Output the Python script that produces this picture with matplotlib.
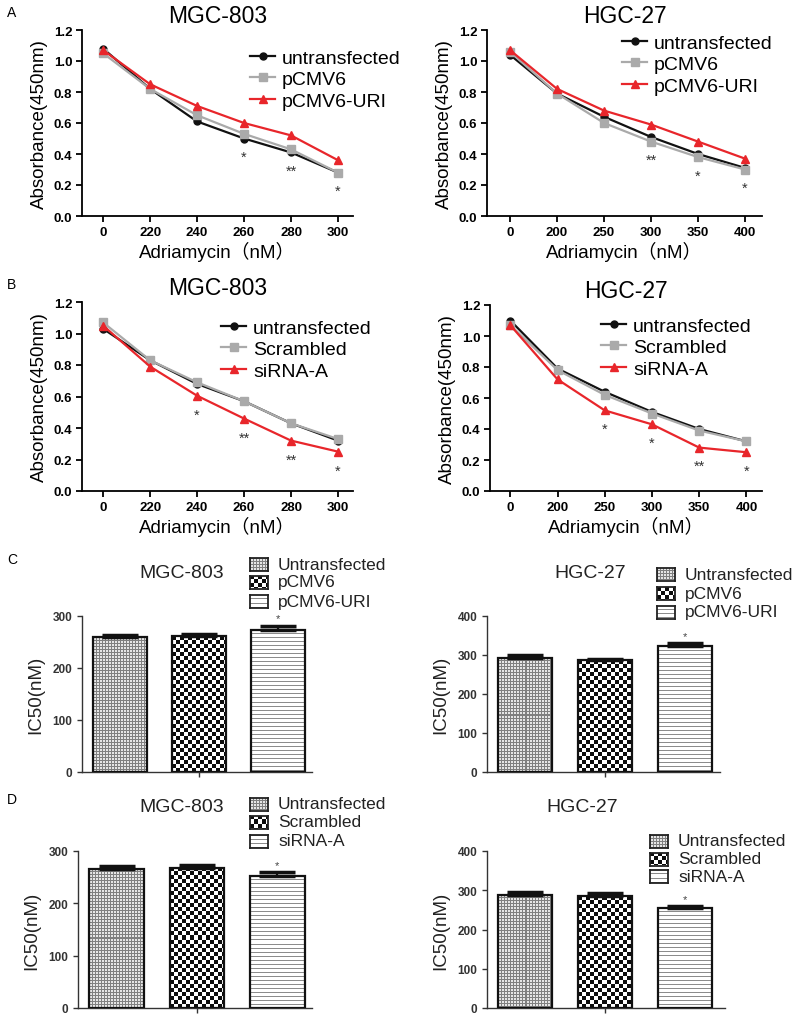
import numpy as np
import matplotlib
matplotlib.use('Agg')
from matplotlib import pyplot as plt

plt.rcParams['font.family'] = ['Liberation Sans', 'DejaVu Sans']

# ---- data: absorbance curves ----
mgc_doses = ['0', '220', '240', '260', '280', '300']
hgc_doses = ['0', '200', '250', '300', '350', '400']

a_mgc_untr = [1.08, 0.82, 0.61, 0.50, 0.41, 0.28]
a_mgc_pcmv = [1.05, 0.82, 0.65, 0.53, 0.43, 0.28]
a_mgc_uri = [1.07, 0.85, 0.71, 0.60, 0.52, 0.36]
a_mgc_stars = ['', '', '', '*', '**', '*']

a_hgc_untr = [1.04, 0.79, 0.64, 0.51, 0.40, 0.31]
a_hgc_pcmv = [1.06, 0.79, 0.60, 0.48, 0.38, 0.30]
a_hgc_uri = [1.07, 0.82, 0.68, 0.59, 0.48, 0.37]
a_hgc_stars = ['', '', '', '**', '*', '*']

b_mgc_untr = [1.03, 0.83, 0.68, 0.57, 0.43, 0.32]
b_mgc_scr = [1.07, 0.83, 0.69, 0.57, 0.43, 0.33]
b_mgc_si = [1.05, 0.79, 0.605, 0.46, 0.32, 0.25]
b_mgc_stars = ['', '', '*', '**', '**', '*']

b_hgc_untr = [1.10, 0.79, 0.64, 0.51, 0.40, 0.32]
b_hgc_scr = [1.07, 0.78, 0.62, 0.50, 0.39, 0.32]
b_hgc_si = [1.07, 0.72, 0.52, 0.43, 0.28, 0.25]
b_hgc_stars = ['', '', '*', '*', '**', '*']

# ---- data: IC50 bars ----
c_labels = ['Untransfected', 'pCMV6', 'pCMV6-URI']
d_labels = ['Untransfected', 'Scrambled', 'siRNA-A']
c_mgc_ic50 = [259, 261, 274]
c_mgc_err = [4, 5, 7]
c_hgc_ic50 = [293, 286, 323]
c_hgc_err = [6, 4, 7]
d_mgc_ic50 = [266, 268, 253]
d_mgc_err = [5, 6, 6]
d_hgc_ic50 = [289, 285, 255]
d_hgc_err = [6, 7, 5]
bar_stars = ['', '', '*']

W, H = 800, 1020
fig = plt.figure(figsize=(W / 100, H / 100), dpi=100)
XFONT = ['Liberation Sans', 'Noto Sans CJK SC']


def box(l, t, r, b):
    return [l / W, 1 - b / H, (r - l) / W, (b - t) / H]


def line_panel(rect, doses, series, names, stars, xlim, title, leg_xy):
    ax = fig.add_axes(box(*rect))
    x = np.arange(len(doses))
    styles = [('#111111', 'o', 5), ('#aaaaaa', 's', 5.5), ('#e8262b', '^', 5.5)]
    for vals, name, (c, m, ms) in zip(series, names, styles):
        ax.plot(x, vals, color=c, marker=m, ms=ms, lw=1.6, label=name)
    for xi, s in zip(x, stars):
        if s:
            low = min(v[xi] for v in series)
            ax.text(xi, low - 0.145, s, ha='center', va='baseline',
                    fontsize=10.5, color='#333333')
    ax.set_xlim(*xlim)
    ax.set_ylim(0, 1.2)
    ax.set_xticks(x)
    ax.set_xticklabels(doses)
    ax.set_yticks(np.arange(0, 1.21, 0.2))
    ax.set_yticklabels(['%.1f' % v for v in np.arange(0, 1.21, 0.2)])
    for sp in ['top', 'right']:
        ax.spines[sp].set_visible(False)
    for sp in ['left', 'bottom']:
        ax.spines[sp].set_linewidth(1.3)
    ax.tick_params(width=1.3, length=4, labelsize=9.5, pad=3)
    for lab in ax.get_xticklabels() + ax.get_yticklabels():
        lab.set_fontweight('bold')
    ax.set_ylabel('Absorbance(450nm)', fontsize=13.5, labelpad=4)
    ax.set_xlabel('Adriamycin（nM）', fontsize=13.5, labelpad=2, family=XFONT)
    ax.set_title(title, fontsize=16.5, pad=6)
    ax.legend(loc='upper left', bbox_to_anchor=(leg_xy[0] / W, 1 - leg_xy[1] / H),
              bbox_transform=fig.transFigure, frameon=False, fontsize=14,
              borderpad=0, borderaxespad=0, handlelength=1.3,
              handletextpad=0.35, labelspacing=0.2)
    return ax


line_panel((82, 31, 353, 217), mgc_doses, [a_mgc_untr, a_mgc_pcmv, a_mgc_uri],
           ['untransfected', 'pCMV6', 'pCMV6-URI'], a_mgc_stars, (-0.45, 5.32),
           'MGC-803', (250, 50))
line_panel((487, 31, 762, 217), hgc_doses, [a_hgc_untr, a_hgc_pcmv, a_hgc_uri],
           ['untransfected', 'pCMV6', 'pCMV6-URI'], a_hgc_stars, (-0.49, 5.36),
           'HGC-27', (622, 35))
line_panel((82, 303, 353, 492), mgc_doses, [b_mgc_untr, b_mgc_scr, b_mgc_si],
           ['untransfected', 'Scrambled', 'siRNA-A'], b_mgc_stars, (-0.45, 5.32),
           'MGC-803', (221, 320))
line_panel((490, 306, 762, 492), hgc_doses, [b_hgc_untr, b_hgc_scr, b_hgc_si],
           ['untransfected', 'Scrambled', 'siRNA-A'], b_hgc_stars, (-0.43, 5.33),
           'HGC-27', (601, 318))


def texture(kind, w_px, h_px):
    w_px = max(int(round(w_px)), 2)
    h_px = max(int(round(h_px)), 2)
    i, j = np.mgrid[0:h_px, 0:w_px]
    if kind == 0:
        return np.where((i % 3 == 0) | (j % 3 == 0), 0.5, 0.9)
    if kind == 1:
        return np.where((i // 4 + j // 4) % 2 == 0, 0.05, 1.0)
    return np.where(i % 4 == 0, 0.55, 1.0)


def bar_panel(rect, vals, errs, ymax, xlim, title, title_xy, labels, leg_x, leg_rows):
    l, t, r, b = rect
    ax = fig.add_axes(box(*rect))
    x = np.arange(len(vals))
    width = 0.68
    bars = ax.bar(x, vals, width=width, color='none', edgecolor='#111111',
                  linewidth=1.6, zorder=4)
    ax.set_xlim(*xlim)
    ax.set_ylim(0, ymax)
    px_x = (r - l) / (xlim[1] - xlim[0])
    px_y = (b - t) / ymax
    for k, bar in enumerate(bars):
        arr = texture(k, bar.get_width() * px_x, bar.get_height() * px_y)
        im = ax.imshow(arr, cmap='gray', vmin=0, vmax=1, interpolation='nearest',
                       aspect='auto', zorder=3,
                       extent=(bar.get_x(), bar.get_x() + bar.get_width(),
                               0, bar.get_height()))
        im.set_clip_path(bar)
    ax.errorbar(x, vals, yerr=[np.zeros(len(errs)), errs], fmt='none',
                ecolor='#111111', elinewidth=1.6, capsize=13, capthick=2.5, zorder=5)
    for xi, v, e, s in zip(x, vals, errs, bar_stars):
        if s:
            ax.text(xi, v + e + ymax * 0.015, s, ha='center', va='bottom',
                    fontsize=8, color='#444444')
    ax.set_xlim(*xlim)
    ax.set_ylim(0, ymax)
    ax.set_xticks([1])
    ax.set_xticklabels([''])
    ax.set_yticks(np.arange(0, ymax + 1, 100))
    for sp in ['top', 'right']:
        ax.spines[sp].set_visible(False)
    for sp in ['left', 'bottom']:
        ax.spines[sp].set_linewidth(1.0)
        ax.spines[sp].set_color('#333333')
    ax.tick_params(width=1.0, length=3.5, labelsize=8.5, colors='#333333')
    for lab in ax.get_yticklabels():
        lab.set_fontweight('bold')
    ax.set_ylabel('IC50(nM)', fontsize=13.5, labelpad=6, color='#222222')
    fig.text(title_xy[0] / W, 1 - title_xy[1] / H, title, ha='center',
             va='center', fontsize=14, color='#222222')
    for k, (lab, ry) in enumerate(zip(labels, leg_rows)):
        sw = fig.add_axes(box(leg_x, ry - 6.5, leg_x + 18, ry + 6.5))
        sw.imshow(texture(k, 18, 13), cmap='gray', vmin=0, vmax=1,
                  interpolation='nearest', aspect='auto')
        sw.set_xticks([])
        sw.set_yticks([])
        for sp in sw.spines.values():
            sp.set_linewidth(1.3)
            sp.set_color('#222222')
        fig.text((leg_x + 28) / W, 1 - ry / H, lab, ha='left', va='center',
                 fontsize=12.5, color='#222222')
    return ax


bar_panel((82, 617, 312, 773), c_mgc_ic50, c_mgc_err, 300, (-0.48, 2.43),
          'MGC-803', (182, 573), c_labels, 250, [565, 583, 602])
bar_panel((487, 617, 720, 773), c_hgc_ic50, c_hgc_err, 400, (-0.475, 2.44),
          'HGC-27', (590, 573), c_labels, 657, [575, 594, 613])
bar_panel((78, 852, 312, 1009), d_mgc_ic50, d_mgc_err, 300, (-0.48, 2.43),
          'MGC-803', (182, 808), d_labels, 250, [805, 823, 842])
bar_panel((487, 852, 725, 1009), d_hgc_ic50, d_hgc_err, 400, (-0.475, 2.5),
          'HGC-27', (582, 808), d_labels, 650, [842, 860, 877])

for letter, y in [('A', 13), ('B', 285), ('C', 560), ('D', 800)]:
    fig.text(12 / W, 1 - y / H, letter, ha='center', va='center', fontsize=10)

fig.savefig('out.png', dpi=100)
